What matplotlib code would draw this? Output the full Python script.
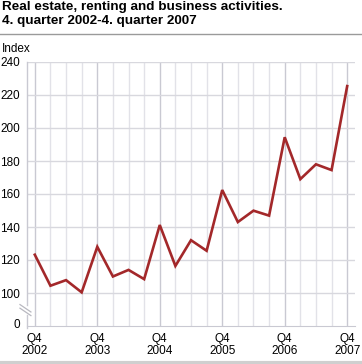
import matplotlib.pyplot as plt
from matplotlib.lines import Line2D
from matplotlib.transforms import ScaledTranslation

plt.rcParams["font.family"] = ["Liberation Sans", "DejaVu Sans"]

# quarterly index, Q4 2002 - Q4 2007
quarters = ["Q4 2002", "Q1 2003", "Q2 2003", "Q3 2003",
            "Q4 2003", "Q1 2004", "Q2 2004", "Q3 2004",
            "Q4 2004", "Q1 2005", "Q2 2005", "Q3 2005",
            "Q4 2005", "Q1 2006", "Q2 2006", "Q3 2006",
            "Q4 2006", "Q1 2007", "Q2 2007", "Q3 2007",
            "Q4 2007"]
index_values = [123.2, 104.4, 107.8, 100.4,
                128.0, 110.0, 114.0, 108.4,
                141.2, 116.4, 132.0, 125.6,
                162.4, 143.0, 149.9, 146.9,
                194.4, 169.0, 178.0, 174.5,
                225.4]
x_tick_labels = ["Q4\n2002", "Q4\n2003", "Q4\n2004", "Q4\n2005", "Q4\n2006", "Q4\n2007"]
y_ticks = [100, 120, 140, 160, 180, 200, 220, 240]

W, H = 362, 364
fig = plt.figure(figsize=(W / 100, H / 100), dpi=100)

# title block
fig.text(2 / W, 1 - 1 / H, "Real estate, renting and business activities.\n4. quarter 2002-4. quarter 2007",
         ha="left", va="top", fontsize=9.7, fontweight="bold", linespacing=1.2)
fig.add_artist(Line2D([0, 1], [1 - 34 / H, 1 - 34 / H], color="#9a9a9a", lw=1))
fig.add_artist(Line2D([0, 1], [1 - 362.5 / H, 1 - 362.5 / H], color="#cfcfcf", lw=3))
fig.text(2 / W, 1 - 43 / H, "Index", ha="left", va="top", fontsize=8.5)

ax = fig.add_axes([27 / W, 1 - 326 / H, (355 - 27) / W, (326 - 62) / H])

x = list(range(len(quarters)))
ax.set_xlim(-0.5, len(quarters) - 0.5)
ax.set_ylim(80, 240)

# grid
for i in x:
    ax.axvline(i, color="#c9c9d2" if i % 4 == 0 else "#e2e2e8", lw=1, zorder=0)
for v in y_ticks:
    ax.axhline(v, color="#d8d8de", lw=1, zorder=0)

ax.plot(x, index_values, color="#a3282a", lw=1.9, zorder=3, solid_joinstyle="miter")

for s in ["top", "right", "left"]:
    ax.spines[s].set_visible(False)
ax.spines["bottom"].set_color("#c9c9d2")

# broken left axis
ax.plot([-0.5, -0.5], [240, 92.5], color="#c9c9d2", lw=1, clip_on=False)
ax.plot([-0.5, -0.5], [86.5, 78.5], color="#c9c9d2", lw=1, clip_on=False)
for dy in (0, 2.2):
    ax.plot([-0.95, -0.25], [93 - dy, 88.5 - dy], color="#b8b8c0", lw=0.9, clip_on=False)

ax.set_xticks(x[::4])
ax.set_xticklabels(x_tick_labels, fontsize=8.5, linespacing=1.0)
ax.set_yticks([80] + y_ticks)
ax.set_yticklabels(["0"] + [str(v) for v in y_ticks], fontsize=8.5)
ax.tick_params(axis="both", length=0)
ax.tick_params(axis="y", pad=5)
ax.tick_params(axis="x", pad=5)

# lift the "0" label a little, as in the reference
zero_lbl = ax.get_yticklabels()[0]
zero_lbl.set_transform(zero_lbl.get_transform() + ScaledTranslation(0, 3 / 100, fig.dpi_scale_trans))

fig.savefig("out.png", dpi=100)
